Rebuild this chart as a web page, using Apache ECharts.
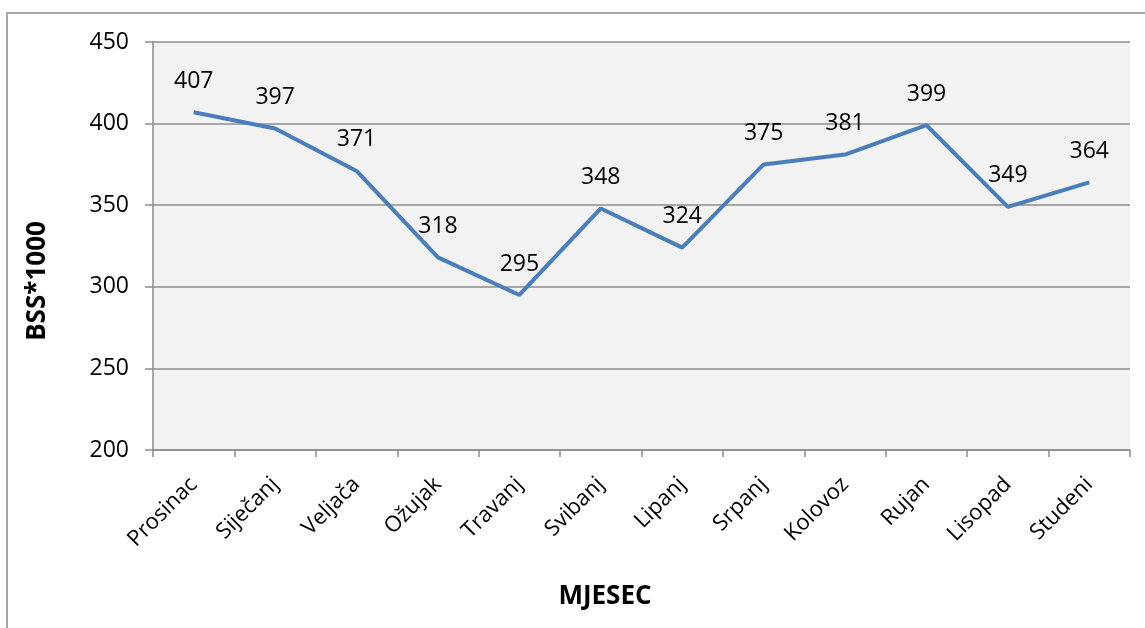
<!DOCTYPE html>
<html>
<head>
<meta charset="utf-8">
<script src="https://cdn.jsdelivr.net/npm/echarts@6/dist/echarts.min.js"></script>
<style>
html, body { margin: 0; padding: 0; background: #fff; }
#chart { width: 1145px; height: 628px; }
</style>
</head>
<body>
<div id="chart"></div>
<script>
var months = ['Prosinac', 'Siječanj', 'Veljača', 'Ožujak', 'Travanj', 'Svibanj',
    'Lipanj', 'Srpanj', 'Kolovoz', 'Rujan', 'Lisopad', 'Studeni'];
var bss = [407, 397, 371, 318, 295, 348, 324, 375, 381, 399, 349, 364];

var font = 'Open Sans';
var chart = echarts.init(document.getElementById('chart'));

var option = {
    backgroundColor: '#ffffff',
    animation: false,
    graphic: [
        {
            type: 'rect',
            shape: {x: 7, y: 13, width: 1200, height: 700},
            style: {fill: 'none', stroke: '#8a8a8a', lineWidth: 1.5},
            silent: true
        },
        // axis titles, placed like the original (centered on the chart, not the plot)
        {
            type: 'text',
            x: 38, y: 281,
            rotation: Math.PI / 2,
            style: {
                text: 'BSS*1000', fill: '#000',
                font: 'bold 26px "Open Sans"',
                align: 'center', verticalAlign: 'middle'
            }
        },
        {
            type: 'text',
            x: 605, y: 597,
            style: {
                text: 'MJESEC', fill: '#000',
                font: 'bold 26px "Open Sans"',
                align: 'center', verticalAlign: 'middle'
            }
        }
    ],
    grid: {
        left: 153,
        right: 15,
        top: 42,
        bottom: 178,
        show: true,
        backgroundColor: '#f2f2f2',
        borderWidth: 0
    },
    xAxis: {
        type: 'category',
        data: months,
        boundaryGap: true,
        axisLine: {lineStyle: {color: '#8c8c8c', width: 1.5}},
        axisTick: {show: true, length: 7, lineStyle: {color: '#8c8c8c', width: 1.5}},
        axisLabel: {
            rotate: 45,
            margin: 31,
            interval: 0,
            fontFamily: font,
            fontSize: 22,
            color: '#000'
        }
    },
    yAxis: {
        type: 'value',
        min: 200,
        max: 450,
        interval: 50,
        axisLine: {show: true, lineStyle: {color: '#8c8c8c', width: 1.5}},
        axisTick: {show: true, length: 8, lineStyle: {color: '#8c8c8c', width: 1.5}},
        axisLabel: {fontFamily: font, fontSize: 23, color: '#000', margin: 24},
        splitLine: {lineStyle: {color: '#8c8c8c', width: 1.5}}
    },
    series: [
        {
            type: 'line',
            data: bss,
            symbol: 'circle',
            symbolSize: 1,
            showSymbol: true,
            lineStyle: {color: '#4a7ebb', width: 4},
            itemStyle: {color: 'rgba(0,0,0,0)', borderWidth: 0},
            label: {
                show: true,
                position: 'top',
                distance: 19,
                fontFamily: font,
                fontSize: 23,
                color: '#000'
            }
        }
    ]
};

chart.setOption(option);
</script>
</body>
</html>
